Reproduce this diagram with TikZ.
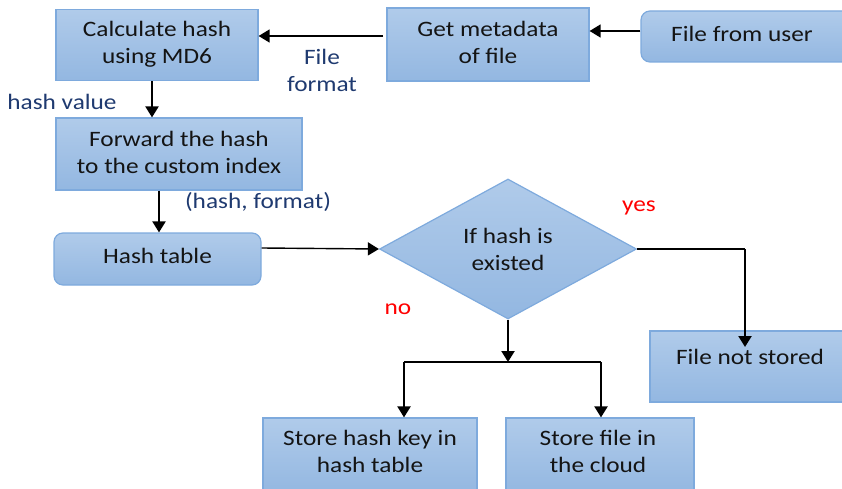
\documentclass[tikz,border=0pt]{standalone}
\usepackage{fontspec}
\setmainfont{Carlito}[FakeStretch=1.15]
\usetikzlibrary{arrows.meta,shapes.geometric}
\definecolor{boxtop}{HTML}{B0CBEA}
\definecolor{boxbot}{HTML}{93B7E1}
\definecolor{boxline}{HTML}{7EAADD}
\definecolor{lbl}{HTML}{1F3A70}
\definecolor{txt}{HTML}{141414}
\tikzset{
  base/.style={draw=boxline, line width=1.2pt, top color=boxtop, bottom color=boxbot,
    text=txt, align=center, inner sep=0pt,
    font=\fontsize{22}{27}\selectfont},
  procbox/.style={base, rectangle},
  roundbox/.style={base, rectangle, rounded corners=9pt},
  decision/.style={base, diamond},
  boxtext/.style={text=txt, align=center, inner sep=0pt, font=\fontsize{22}{27}\selectfont},
  lab/.style={text=lbl, font=\fontsize{22}{27}\selectfont, align=center, inner sep=0pt},
  ans/.style={text=red, font=\fontsize{22}{27}\selectfont, inner sep=0pt},
  flow/.style={draw=black, line width=2.2pt, -{Triangle[width=13pt,length=11pt]}},
  thinflow/.style={draw=black, line width=1.4pt, -{Triangle[width=13pt,length=11pt]}},
  joint/.style={draw=black, line width=1.4pt}
}
\begin{document}
\begin{tikzpicture}[x=1pt,y=-1pt]
\useasboundingbox (0,0) rectangle (842,489);

% process boxes
\node[procbox, minimum width=202pt, minimum height=71pt] (calc) at (157,45) {};
\node[boxtext] (calctxt) at (157,44) {Calculate hash\\using MD6};
\node[procbox, minimum width=202pt, minimum height=73pt] (meta) at (488,44.5) {};
\node[boxtext] (metatxt) at (488,42) {Get metadata\\of file};
\node[roundbox, minimum width=214pt, minimum height=51pt] (user) at (748,36.5) {};
\node[boxtext] (usertxt) at (742,34) {File from user};
\node[procbox, minimum width=246pt, minimum height=72pt] (fwd) at (179,154) {};
\node[boxtext] (fwdtxt) at (179,152) {Forward the hash\\to the custom index};
\node[roundbox, minimum width=207pt, minimum height=52pt] (table) at (157.5,259) {};
\node[boxtext] (tabletxt) at (157.5,256) {Hash table};
\node[decision, minimum width=257pt, minimum height=140pt, aspect=1.84] (exist) at (508,249) {};
\node[boxtext] (existtxt) at (508,249) {If hash is\\existed};
\node[procbox, minimum width=196pt, minimum height=71pt] (notstored) at (748,366.5) {};
\node[boxtext] (nstxt) at (750,357) {File not stored};
\node[procbox, minimum width=214pt, minimum height=76pt] (key) at (370,456) {};
\node[boxtext] (keytxt) at (370,451) {Store hash key in\\hash table};
\node[procbox, minimum width=188pt, minimum height=76pt] (cloud) at (600,456) {};
\node[boxtext] (cloudtxt) at (598,451) {Store file in\\the cloud};

% labels
\node[lab] (ff) at (322,70) {File\\format};
\node[lab] (hv) at (62,102) {hash value};
\node[lab] (hf) at (258,202) {(hash, format)};
\node[ans] (yes) at (639,208) {yes};
\node[ans] (no) at (398,309) {no};

% connectors
\draw[thinflow] (user.west |- 0,31) -- (meta.east |- 0,31);
\draw[thinflow] (383,36) -- (calc.east |- 0,36);
\draw[flow] (calc.south -| 152,0) -- (fwd.north -| 152,0);
\draw[flow] (fwd.south -| 159,0) -- (table.north -| 159,0);
\draw[thinflow] (table.east |- 0,248) -- (exist.west);

\coordinate (yescorner) at (745,249);
\coordinate (yesend) at (745,347);
\draw[joint] (exist.east) -- (yescorner);
\draw[flow] (yescorner) -- (yesend);

\coordinate (split) at (508,362);
\coordinate (splitL) at (404,362);
\coordinate (splitR) at (601,362);
\draw[flow] (exist.south) -- (split);
\draw[joint] (splitL) -- (splitR);
\draw[flow] (splitL) -- (key.north -| splitL);
\draw[flow] (splitR) -- (cloud.north -| splitR);
\end{tikzpicture}
\end{document}
